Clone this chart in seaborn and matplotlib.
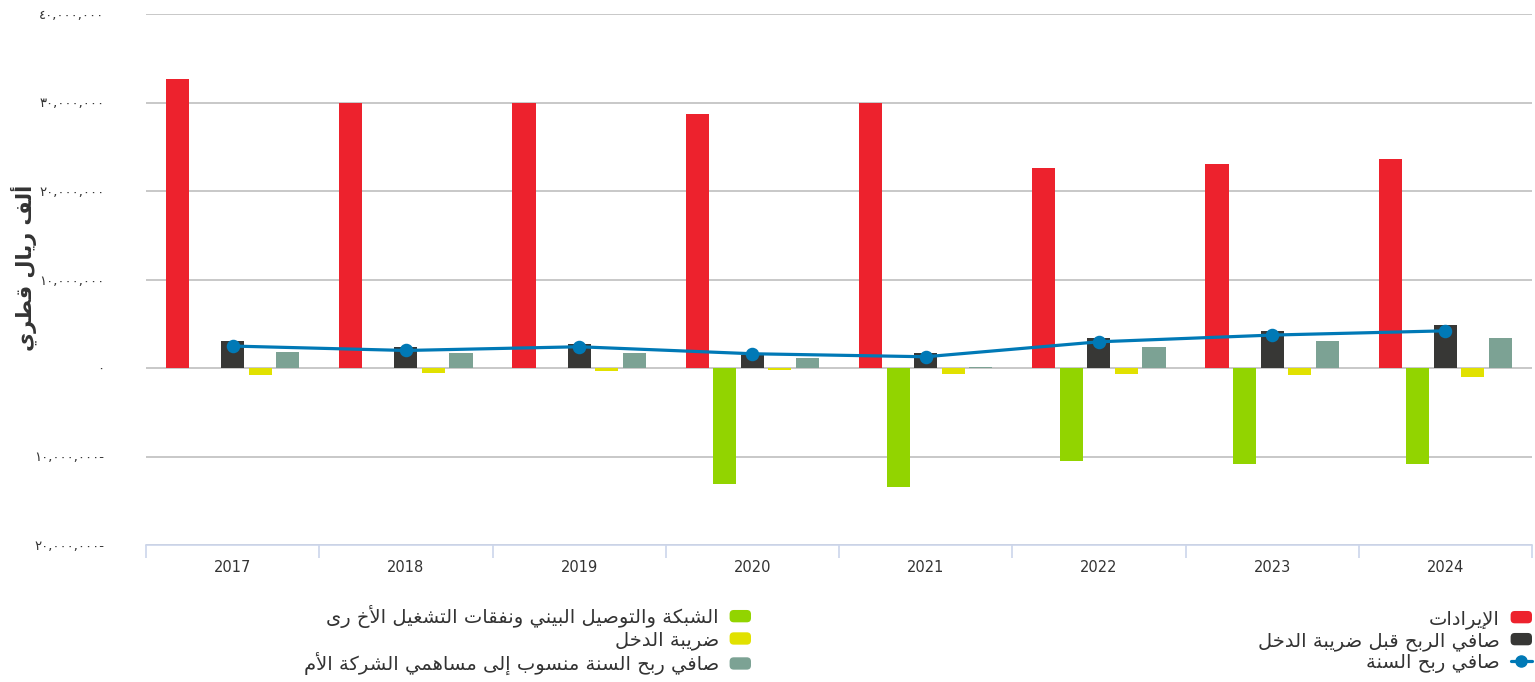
import numpy as np
import pandas as pd
import matplotlib
matplotlib.use("Agg")
import matplotlib.pyplot as plt
from matplotlib.patches import FancyBboxPatch, Patch
from matplotlib.lines import Line2D
from matplotlib.legend_handler import HandlerPatch
from matplotlib.ticker import FuncFormatter, FixedLocator
import seaborn as sns

# ---- data (thousand QAR) ----
years = ["2017", "2018", "2019", "2020", "2021", "2022", "2023", "2024"]
revenue = [32600000, 30000000, 30000000, 28750000, 30000000, 22600000, 23000000, 23600000]
network_opex = [0, 0, 0, -13150000, -13500000, -10550000, -10800000, -10800000]
profit_before_tax = [3070000, 2400000, 2740000, 1500000, 1720000, 3410000, 4200000, 4880000]
income_tax = [-750000, -600000, -380000, -270000, -640000, -640000, -750000, -980000]
profit_to_parent = [1840000, 1720000, 1720000, 1160000, 150000, 2400000, 3070000, 3410000]
net_profit = [2480000, 1980000, 2400000, 1610000, 1270000, 2960000, 3720000, 4200000]

name_revenue = "الإيرادات"
name_network = "الشبكة والتوصيل البيني ونفقات التشغيل الأخ رى"
name_pbt = "صافي الربح قبل ضريبة الدخل"
name_tax = "ضريبة الدخل"
name_parent = "صافي ربح السنة منسوب إلى مساهمي الشركة الأم"
name_net = "صافي ربح السنة"
y_title = "ألف ريال قطري"

colors = {
    name_revenue: "#ED222D",
    name_network: "#92D400",
    name_pbt: "#373735",
    name_tax: "#E1E100",
    name_parent: "#7CA294",
}
line_color = "#0079B6"

# ---- Arabic contextual shaping (presentation forms, visual order) ----
ARABIC_FORMS = {
    'ا': (0xFE8D, False), 'أ': (0xFE83, False), 'إ': (0xFE87, False), 'آ': (0xFE81, False),
    'ب': (0xFE8F, True), 'ة': (0xFE93, False), 'ت': (0xFE95, True), 'ث': (0xFE99, True),
    'ج': (0xFE9D, True), 'ح': (0xFEA1, True), 'خ': (0xFEA5, True), 'د': (0xFEA9, False),
    'ذ': (0xFEAB, False), 'ر': (0xFEAD, False), 'ز': (0xFEAF, False), 'س': (0xFEB1, True),
    'ش': (0xFEB5, True), 'ص': (0xFEB9, True), 'ض': (0xFEBD, True), 'ط': (0xFEC1, True),
    'ظ': (0xFEC5, True), 'ع': (0xFEC9, True), 'غ': (0xFECD, True), 'ف': (0xFED1, True),
    'ق': (0xFED5, True), 'ك': (0xFED9, True), 'ل': (0xFEDD, True), 'م': (0xFEE1, True),
    'ن': (0xFEE5, True), 'ه': (0xFEE9, True), 'و': (0xFEED, False), 'ى': (0xFEEF, False),
    'ي': (0xFEF1, True),
}
LAM_ALEF = {'ا': 0xFEFB, 'أ': 0xFEF7, 'إ': 0xFEF9, 'آ': 0xFEF5}


def shape_arabic(text):
    units = []
    i = 0
    while i < len(text):
        ch = text[i]
        if ch == 'ل' and i + 1 < len(text) and text[i + 1] in LAM_ALEF:
            units.append((LAM_ALEF[text[i + 1]], False, True))
            i += 2
            continue
        if ch in ARABIC_FORMS:
            base, dual = ARABIC_FORMS[ch]
            units.append((base, dual, True))
        else:
            units.append((ch, False, False))
        i += 1
    out = []
    for k, (base, dual, is_ar) in enumerate(units):
        if not is_ar:
            out.append(base)
            continue
        prev_joins = k > 0 and units[k - 1][2] and units[k - 1][1]
        next_joins = dual and k + 1 < len(units) and units[k + 1][2]
        if prev_joins and next_joins:
            form = 3
        elif next_joins:
            form = 2
        elif prev_joins:
            form = 1
        else:
            form = 0
        out.append(chr(base + form))
    return "".join(reversed(out))


ARABIC_DIGITS = str.maketrans("0123456789", "٠١٢٣٤٥٦٧٨٩")


def arabic_tick(v, pos=None):
    if abs(v) < 0.5:
        return "٠"
    s = f"{abs(v):,.0f}".translate(ARABIC_DIGITS)
    return s + "-" if v < 0 else s


# ---- long-form table for the grouped bars ----
bar_series = [
    (name_revenue, revenue),
    (name_network, network_opex),
    (name_pbt, profit_before_tax),
    (name_tax, income_tax),
    (name_parent, profit_to_parent),
]
rows = []
for name, vals in bar_series:
    for yr, v in zip(years, vals):
        rows.append({"year": yr, "series": name, "value": v})
df = pd.DataFrame(rows)

sns.set_theme(style="white")
plt.rcParams["font.family"] = ["DejaVu Sans"]

fig = plt.figure(figsize=(15.35, 6.82), dpi=100)
W, H = 1535, 682
ax = fig.add_axes([146 / W, 1 - 545 / H, (1532 - 146) / W, (545 - 14) / H])

sns.barplot(
    data=df, x="year", y="value", hue="series",
    order=years, hue_order=[s for s, _ in bar_series],
    palette=colors, width=0.795, gap=0.16, errorbar=None,
    saturation=1, linewidth=0, legend=False, ax=ax,
)
sns.pointplot(
    x=years, y=net_profit, order=years, color=line_color,
    markers="o", markersize=8, linewidth=2.3, errorbar=None, ax=ax,
)

ax.set_xlim(-0.5, 7.5)
ax.set_ylim(-20000000, 40000000)
ax.yaxis.set_major_locator(FixedLocator(np.arange(-20000000, 40000001, 10000000)))
ax.yaxis.set_major_formatter(FuncFormatter(arabic_tick))
ax.yaxis.grid(True, color="#c8c8c8", linewidth=1.4)
ax.set_axisbelow(True)

for side in ["left", "right", "top"]:
    ax.spines[side].set_visible(False)
ax.spines["bottom"].set_color("#ccd6eb")
ax.spines["bottom"].set_linewidth(1.2)

ax.set_xticks(range(len(years)))
ax.set_xticklabels(years)
ax.set_xticks(np.arange(-0.5, len(years), 1.0), minor=True)
ax.tick_params(axis="x", which="major", bottom=True, length=0, pad=11,
               labelsize=10.5, labelcolor="#333333")
ax.tick_params(axis="x", which="minor", bottom=True, length=9, width=1.2,
               color="#ccd6eb", direction="out")
ax.tick_params(axis="y", length=0, pad=30, labelsize=9.5, labelcolor="#333333")
ax.set_xlabel("")
ax.set_ylabel("")

fig.text(24 / W, 1 - 268 / H, shape_arabic(y_title), rotation=90,
         ha="center", va="center", fontsize=15, fontweight="bold", color="#333333")


# ---- legends (right-to-left, handles on the right) ----
class RoundSwatch(HandlerPatch):
    def create_artists(self, legend, orig_handle, xdescent, ydescent,
                       width, height, fontsize, trans):
        p = FancyBboxPatch((-xdescent, -ydescent), width, height,
                           boxstyle="round,pad=0,rounding_size=3",
                           facecolor=orig_handle.get_facecolor(),
                           edgecolor="none", transform=trans)
        return [p]


def swatch(name):
    return Patch(facecolor=colors[name], label=shape_arabic(name))


right_handles = [
    swatch(name_revenue),
    swatch(name_pbt),
    Line2D([], [], color=line_color, lw=2.3, marker="o", markersize=8,
           label=shape_arabic(name_net)),
]
left_handles = [swatch(name_network), swatch(name_tax), swatch(name_parent)]

leg_kw = dict(
    loc="upper right", frameon=False, markerfirst=False, fontsize=14,
    handlelength=1.1, handleheight=0.6, handletextpad=0.55,
    labelspacing=0.12, borderpad=0, borderaxespad=0,
    handler_map={Patch: RoundSwatch()}, labelcolor="#333333",
)
fig.legend(handles=right_handles, bbox_to_anchor=(1532 / W, 1 - 609 / H), **leg_kw)
fig.legend(handles=left_handles, bbox_to_anchor=(751 / W, 1 - 605 / H), **leg_kw)

fig.savefig("out.png", dpi=100, facecolor="white")
